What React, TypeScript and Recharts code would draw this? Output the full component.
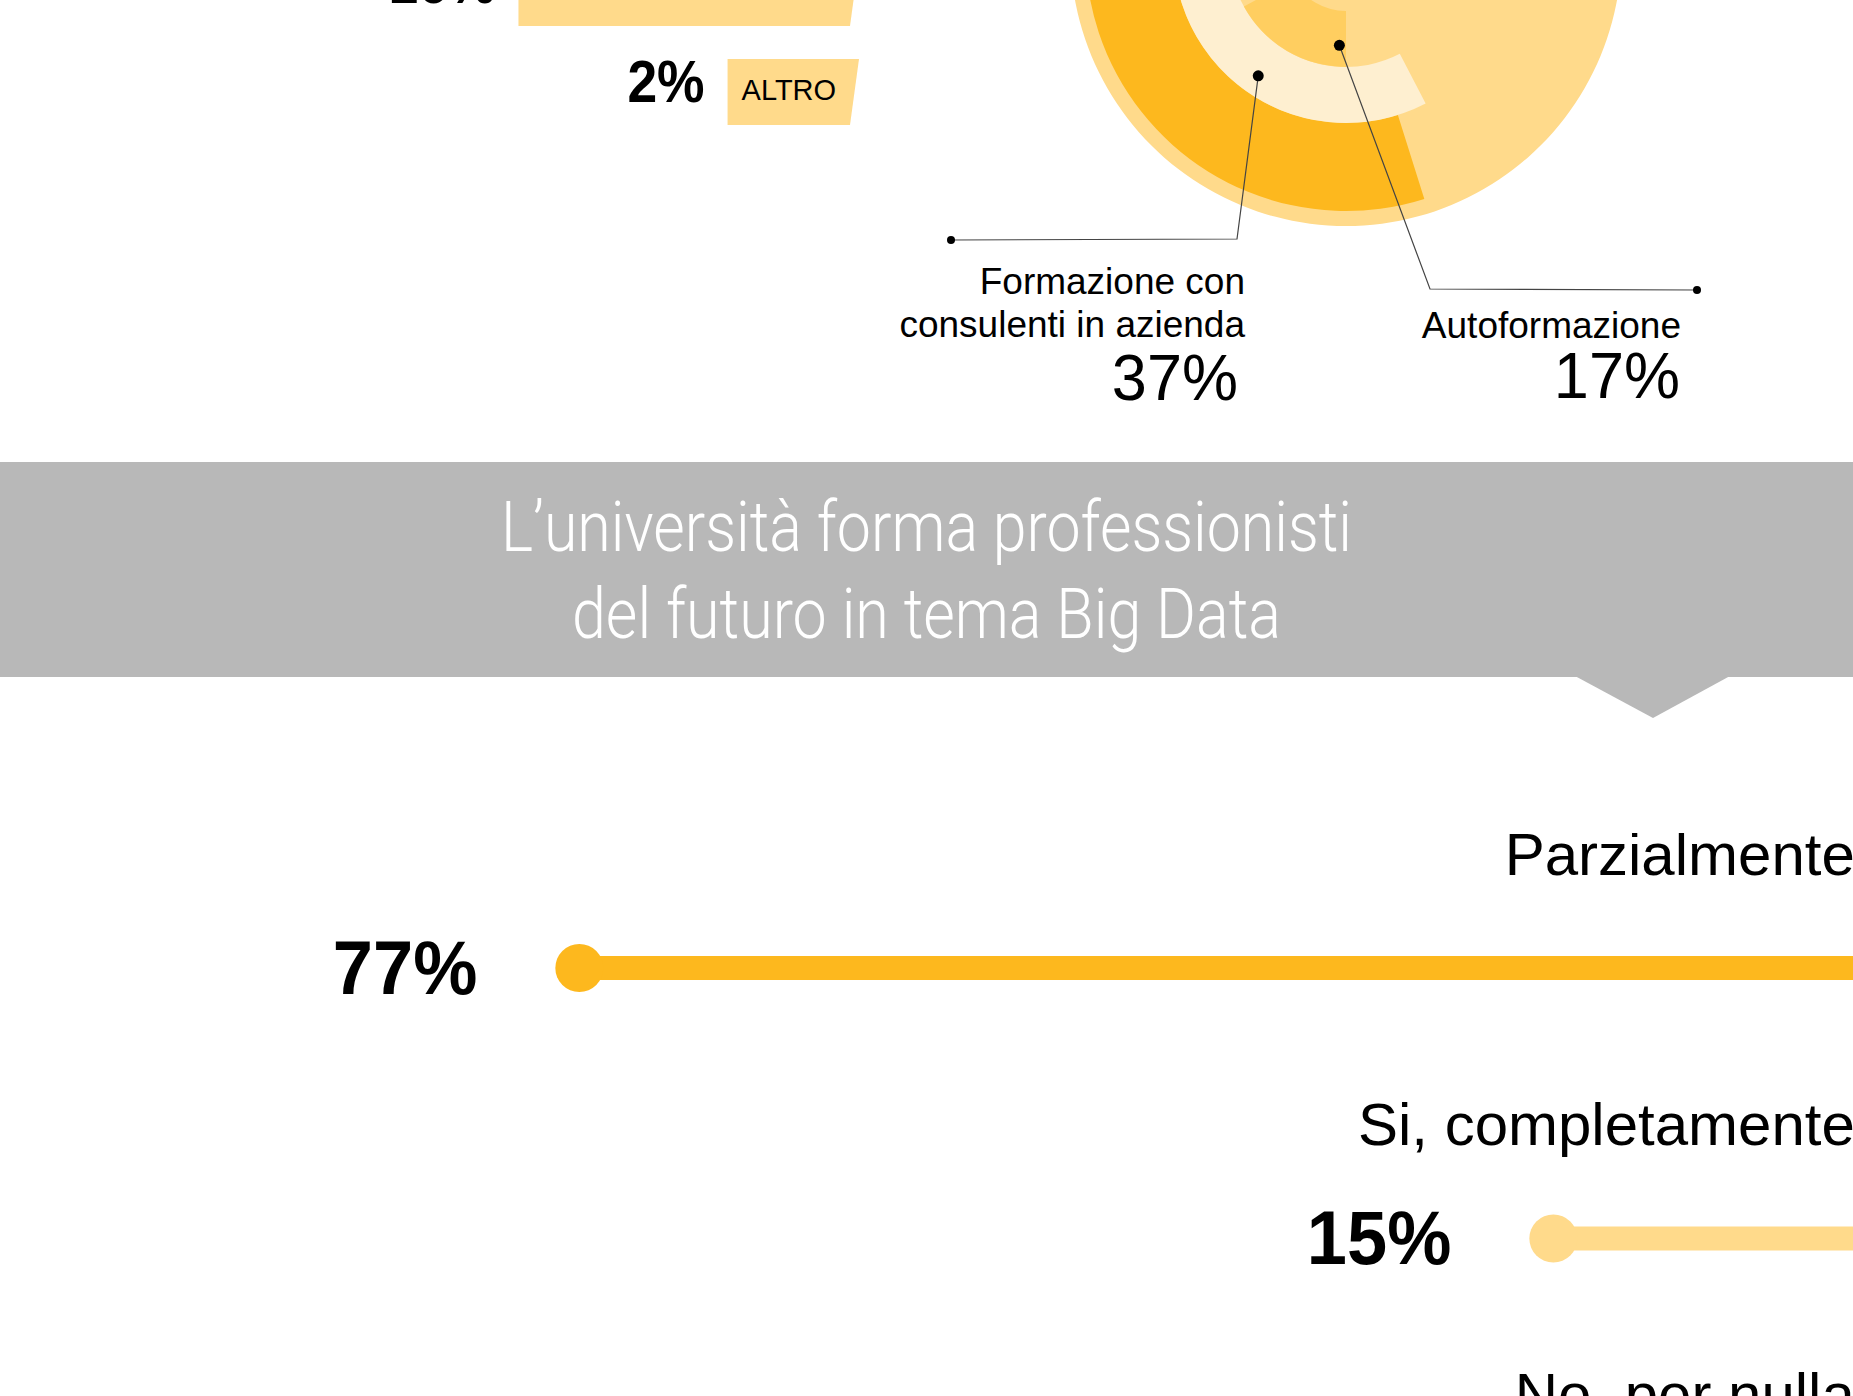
import React from 'react';
import { BarChart, Bar, XAxis, YAxis, PieChart, Pie, Cell } from 'recharts';

// tag bars, top left
const tagNames = ['', 'ALTRO'];
const tagValues = [16, 2];

// concentric rings
const ringNames = ['Formazione esterna', 'Formazione con consulenti in azienda', 'Autoformazione'];
const ringValues = [44, 37, 17];
const ringLabelLines = [[], ['Formazione con', 'consulenti in azienda'], ['Autoformazione']];

// lollipops
const answerNames = ['Parzialmente', 'Si, completamente', 'No, per nulla'];
const answerValues = [77, 15, 8];

const bannerLines = ['L’università forma professionisti', 'del futuro in tema Big Data'];

const ORANGE = '#FDB81E';
const LIGHT = '#FFDA8B';
const CREAM = '#FEEFD0';
const MID = '#FFCE60';
const GREY = '#B8B8B8';
const FONT = '"Liberation Sans", Arial, Helvetica, sans-serif';

// scale starts (where the tracks begin, off to the right)
const TAG_BASE = -6.8;
const LINE_BASE = -5.2;

const tagData = tagNames.map((name, i) => ({ name, value: tagValues[i], span: [TAG_BASE, tagValues[i]] }));
const answerData = answerNames.map((name, i) => ({ name, value: answerValues[i], span: [LINE_BASE, answerValues[i]] }));
const answerColors = [ORANGE, LIGHT, CREAM];

const PIE_LEFT = 800;
const PIE_TOP = -400;
const PIE_CX = 546;
const PIE_CY = 350.5;

const ringStyle = [
  { fill: ORANGE, inner: 172.5, outer: 260.5, end: 287.5 },
  { fill: CREAM, inner: 116.5, outer: 172.5, end: 297.5 },
  { fill: MID, inner: 60.5, outer: 116.5, end: 270 },
];

const ringCallouts: any[] = [
  null,
  { angle: 235, r: 153, elbow: [-109, 288.5], tip: [-395, 289.5], textX: -101, pctX: -108, lineY: [343.5, 386.5], pctY: 449.5 },
  { angle: 266, r: 95, elbow: [84, 338.5], tip: [351, 339.5], textX: 335, pctX: 334, lineY: [387.5], pctY: 447.5 },
];

const LOLLI_LEFT = 218.2;
const LOLLI_TOP = 833.25;
const LABEL_END = 1855 - LOLLI_LEFT;

const TagShape = (props: any) => {
  const { x, y, width, height, payload } = props;
  const left = Math.min(x, x + width);
  const right = Math.max(x, x + width);
  const mid = y + height / 2;
  return (
    <g>
      <polygon
        points={`${left},${y} ${right},${y} ${right - 9},${y + height} ${left},${y + height}`}
        fill={LIGHT}
      />
      {payload.name ? (
        <text x={left + 14} y={mid + 8} fontSize={29} fontFamily={FONT} fill="#000">
          {payload.name}
        </text>
      ) : null}
      <text
        transform={`translate(${left - 23},${mid + 10}) scale(0.89,1)`}
        textAnchor="end"
        fontSize={60}
        fontWeight="bold"
        fontFamily={FONT}
        fill="#000"
      >
        {payload.value}%
      </text>
    </g>
  );
};

const Lollipop = (props: any) => {
  const { x, y, width, height, payload, fill } = props;
  const left = Math.min(x, x + width);
  const right = Math.max(x, x + width);
  const cy = y + height / 2;
  return (
    <g>
      <rect x={left} y={cy - 12} width={right - left} height={24} fill={fill} />
      <circle cx={left} cy={cy} r={24} fill={fill} />
      <text
        transform={`translate(${left - 102},${cy + 26}) scale(0.95,1)`}
        textAnchor="end"
        fontSize={76}
        fontWeight="bold"
        fontFamily={FONT}
        fill="#000"
      >
        {payload.value}%
      </text>
      <text x={LABEL_END} y={cy - 93.5} textAnchor="end" fontSize={60} fontFamily={FONT} fill="#000">
        {payload.name}
      </text>
    </g>
  );
};

const calloutLabel = (ring: number) => (p: any) => {
  const c = ringCallouts[ring];
  if (!c || p.index !== 0) return null;
  const a = (-c.angle * Math.PI) / 180;
  const ax = PIE_CX + c.r * Math.cos(a);
  const ay = PIE_CY + c.r * Math.sin(a);
  const ex = PIE_CX + c.elbow[0];
  const ey = PIE_CY + c.elbow[1];
  const tx = PIE_CX + c.tip[0];
  const ty = PIE_CY + c.tip[1];
  return (
    <g key={`callout-${ring}`}>
      <polyline points={`${ax},${ay} ${ex},${ey} ${tx},${ty}`} fill="none" stroke="#444" strokeWidth={1.2} />
      <circle cx={ax} cy={ay} r={5.5} fill="#000" />
      <circle cx={tx} cy={ty} r={4} fill="#000" />
      {ringLabelLines[ring].map((line: string, i: number) => (
        <text
          key={i}
          x={PIE_CX + c.textX}
          y={PIE_CY + c.lineY[i]}
          textAnchor="end"
          fontSize={37}
          fontFamily={FONT}
          fill="#000"
        >
          {line}
        </text>
      ))}
      <text
        transform={`translate(${PIE_CX + c.pctX},${PIE_CY + c.pctY}) scale(0.97,1)`}
        textAnchor="end"
        fontSize={65}
        fontFamily={FONT}
        fill="#000"
      >
        {ringValues[ring]}%
      </text>
    </g>
  );
};

export default function App() {
  return (
    <div
      style={{
        position: 'absolute',
        left: 0,
        top: 0,
        width: 1853,
        height: 1396,
        overflow: 'hidden',
        background: '#fff',
      }}
    >
      {/* tag bars */}
      <div style={{ position: 'absolute', left: 160, top: -57.5 }}>
        <BarChart width={699} height={198} data={tagData} layout="vertical" margin={{ top: 0, right: 0, bottom: 0, left: 0 }}>
          <XAxis type="number" scale="linear" domain={[TAG_BASE, 40]} reversed hide allowDataOverflow />
          <YAxis type="category" dataKey="name" hide />
          <Bar dataKey="span" barSize={66} shape={<TagShape />} isAnimationActive={false} />
        </BarChart>
      </div>

      {/* rings */}
      <div style={{ position: 'absolute', left: PIE_LEFT, top: PIE_TOP }}>
        <PieChart width={1000} height={850} margin={{ top: 0, right: 0, bottom: 0, left: 0 }}>
          <Pie
            data={[{ name: 'totale', value: 100 }]}
            dataKey="value"
            cx={PIE_CX}
            cy={PIE_CY}
            innerRadius={0}
            outerRadius={275.5}
            startAngle={0}
            endAngle={360}
            stroke="none"
            fill={LIGHT}
            isAnimationActive={false}
          />
          {ringNames.map((name, i) => {
            const s = ringStyle[i];
            const start = s.end - ringValues[i] * 3.6;
            return (
              <Pie
                key={name}
                data={[
                  { name, value: ringValues[i] },
                  { name: 'resto', value: 100 - ringValues[i] },
                ]}
                dataKey="value"
                cx={PIE_CX}
                cy={PIE_CY}
                innerRadius={s.inner}
                outerRadius={s.outer}
                startAngle={start}
                endAngle={start + 360}
                stroke="none"
                label={calloutLabel(i)}
                labelLine={false}
                isAnimationActive={false}
              >
                <Cell fill={s.fill} />
                <Cell fill="transparent" />
              </Pie>
            );
          })}
        </PieChart>
      </div>

      {/* banner */}
      <svg
        width={1853}
        height={260}
        style={{ position: 'absolute', left: 0, top: 462 }}
      >
        <rect x={0} y={0} width={1853} height={215} fill={GREY} />
        <polygon points="1575,214 1730,214 1653,256" fill={GREY} />
        {bannerLines.map((line, i) => (
          <text
            key={i}
            x={926.5}
            y={89 + i * 87}
            textAnchor="middle"
            fontSize={70}
            fontWeight={300}
            fontFamily='Roboto, "Open Sans", sans-serif'
            fill="#fff"
            textLength={i === 0 ? 851 : 709}
            lengthAdjust="spacingAndGlyphs"
          >
            {line}
          </text>
        ))}
      </svg>

      {/* lollipops */}
      <div style={{ position: 'absolute', left: LOLLI_LEFT, top: LOLLI_TOP }}>
        <BarChart
          width={1652.7}
          height={811.5}
          data={answerData}
          layout="vertical"
          margin={{ top: 0, right: 0, bottom: 0, left: 0 }}
        >
          <XAxis type="number" scale="linear" domain={[LINE_BASE, 100]} reversed hide allowDataOverflow />
          <YAxis type="category" dataKey="name" hide />
          <Bar dataKey="span" barSize={48} shape={<Lollipop />} isAnimationActive={false}>
            {answerData.map((d, i) => (
              <Cell key={d.name} fill={answerColors[i]} />
            ))}
          </Bar>
        </BarChart>
      </div>
    </div>
  );
}
